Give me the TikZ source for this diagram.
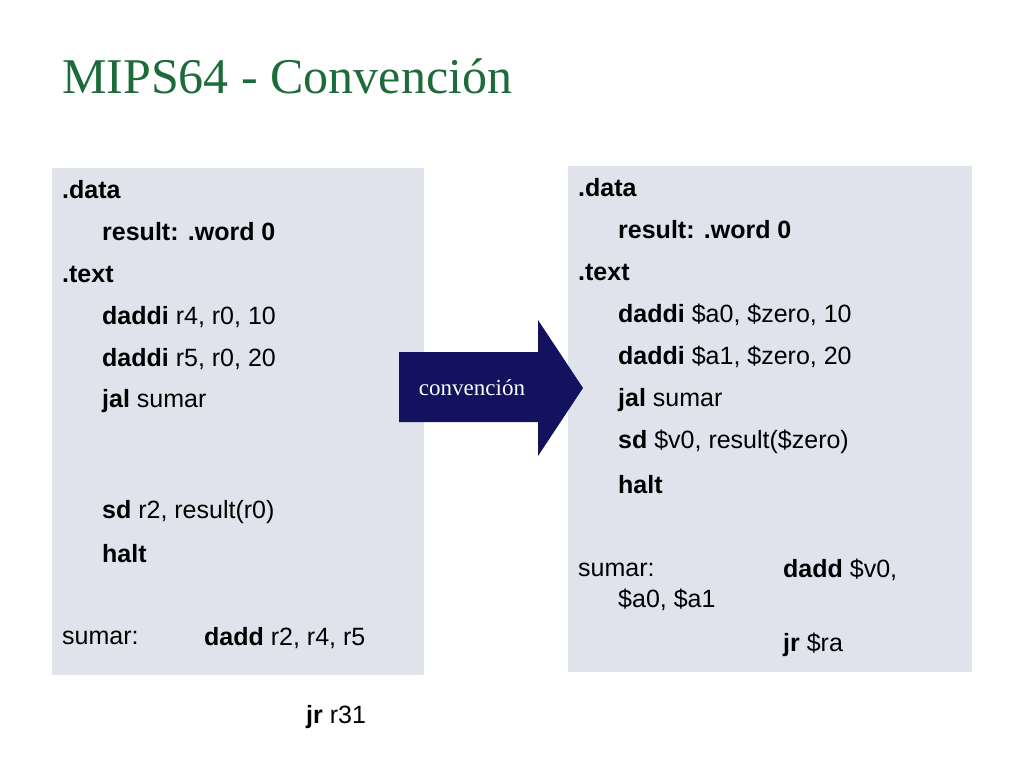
\documentclass[tikz,border=0pt]{standalone}
\usepackage{fontspec}
\setmainfont{Liberation Sans}
\newfontfamily\serifx{Liberation Serif}
\definecolor{boxbg}{HTML}{E1E3EC}
\definecolor{titlegreen}{HTML}{1D6B3A}
\definecolor{navy}{HTML}{12125E}
\begin{document}
\begin{tikzpicture}[x=1pt,y=-1pt,
  code/.style={anchor=west,inner sep=0pt,font=\fontsize{25}{30}\selectfont},
  panel/.style={fill=boxbg,draw=none}]
\useasboundingbox (0,0) rectangle (1024,768);
\node[anchor=west,inner sep=0pt,text=titlegreen,font=\serifx\fontsize{50}{60}\selectfont] (title) at (62,76) {MIPS64 - Convención};
\fill[panel] (52,168) rectangle (424,675);
\fill[panel] (568,166) rectangle (972,672);
% left
\node[code] (l1) at (62,190) {\textbf{.data}};
\node[code] (l2) at (102,232) {\textbf{result: .word 0}};
\node[code] (l3) at (62,274) {\textbf{.text}};
\node[code] (l4) at (102,317) {\textbf{daddi} r4, r0, 10};
\node[code] (l5) at (102,359) {\textbf{daddi} r5, r0, 20};
\node[code] (l6) at (102,401) {\textbf{jal} sumar};
\node[code] (l7) at (102,512) {\textbf{sd} r2, result(r0)};
\node[code] (l8) at (102,554) {\textbf{halt}};
\node[code] (l9) at (62,638) {sumar:};
\node[code] (l10) at (204,638) {\textbf{dadd} r2, r4, r5};
\node[code] (l11) at (306,717) {\textbf{jr} r31};
% right
\node[code] (r1) at (578,188) {\textbf{.data}};
\node[code] (r2) at (618,230) {\textbf{result: .word 0}};
\node[code] (r3) at (578,272) {\textbf{.text}};
\node[code] (r4) at (618,315) {\textbf{daddi} \$a0, \$zero, 10};
\node[code] (r5) at (618,357) {\textbf{daddi} \$a1, \$zero, 20};
\node[code] (r6) at (618,400) {\textbf{jal} sumar};
\node[code] (r7) at (618,442) {\textbf{sd} \$v0, result(\$zero)};
\node[code] (r8) at (618,485) {\textbf{halt}};
\node[code] (r9) at (578,570) {sumar:};
\node[code] (r10) at (783,570) {\textbf{dadd} \$v0,};
\node[code] (r11) at (618,600) {\$a0, \$a1};
\node[code] (r12) at (783,645) {\textbf{jr} \$ra};
% arrow
\fill[navy] (399,352) -- (538,352) -- (538,320) -- (583,388) -- (538,456) -- (538,422) -- (399,422) -- cycle;
\node[text=white,font=\serifx\fontsize{23}{28}\selectfont,inner sep=0pt] (arrowlbl) at (472,388) {convención};
\end{tikzpicture}
\end{document}
